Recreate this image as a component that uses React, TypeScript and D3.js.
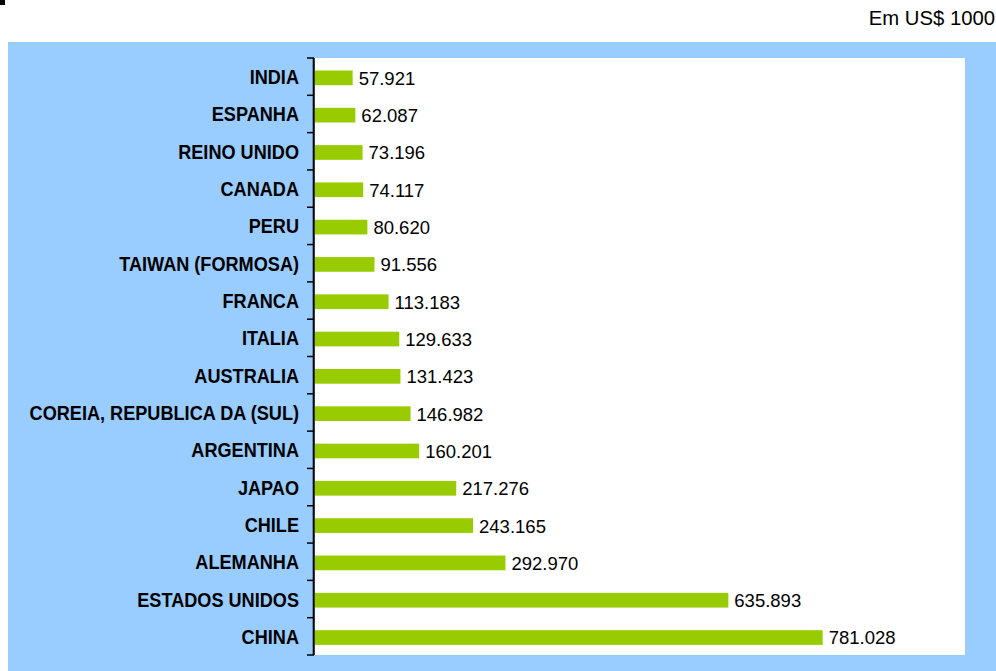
import React from "react";
import * as d3 from "d3";

const countries = [
  "INDIA",
  "ESPANHA",
  "REINO UNIDO",
  "CANADA",
  "PERU",
  "TAIWAN (FORMOSA)",
  "FRANCA",
  "ITALIA",
  "AUSTRALIA",
  "COREIA, REPUBLICA DA (SUL)",
  "ARGENTINA",
  "JAPAO",
  "CHILE",
  "ALEMANHA",
  "ESTADOS UNIDOS",
  "CHINA",
];
const values = [
  57921, 62087, 73196, 74117, 80620, 91556, 113183, 129633, 131423, 146982,
  160201, 217276, 243165, 292970, 635893, 781028,
];
const unitLabel = "Em US$ 1000";
const xDomain = [0, 1000000];

const W = 996;
const H = 671;

const ptBR = d3.formatLocale({
  decimal: ",",
  thousands: ".",
  grouping: [3],
  currency: ["US$", ""],
});
const fmt = ptBR.format(",d");

export default function App() {
  const plotLeft = 315;
  const plotRight = 965;
  const plotTop = 58;
  const plotBottom = 655;

  const x = d3.scaleLinear().domain(xDomain).range([plotLeft, plotRight]);
  const y = d3
    .scaleBand<string>()
    .domain(countries)
    .range([plotTop, plotBottom])
    .paddingInner(0)
    .paddingOuter(0);
  const bw = y.bandwidth();
  const barH = 14.7;
  const boundaries = d3.range(countries.length + 1).map((i) => plotTop + i * bw);

  const font = "Arial, 'Liberation Sans', sans-serif";

  return (
    <div style={{ position: "absolute", left: 0, top: 0 }}>
      <svg width={W} height={H} style={{ display: "block" }}>
        <rect x={0} y={0} width={W} height={H} fill="#ffffff" />
        <rect x={0} y={0} width={5} height={5} fill="#000000" />
        <text
          x={995}
          y={25}
          textAnchor="end"
          fontFamily={font}
          fontSize={20.3}
          fill="#000"
        >
          {unitLabel}
        </text>
        <rect x={8} y={42} width={W - 8} height={H - 42} fill="#99ccff" />
        <rect
          x={plotLeft}
          y={plotTop}
          width={plotRight - plotLeft}
          height={plotBottom - plotTop}
          fill="#ffffff"
        />
        {countries.map((c, i) => {
          const yc = (y(c) as number) + bw / 2;
          const barTop = (y(c) as number) + 12.5;
          return (
            <g key={c}>
              <rect
                x={x(0)}
                y={barTop}
                width={x(values[i]) - x(0)}
                height={barH}
                fill="#99cc00"
              />
              <text
                transform={`translate(299,${yc + 7.5}) scale(0.93,1)`}
                textAnchor="end"
                fontFamily={font}
                fontWeight="bold"
                fontSize={19.5}
                fill="#000"
              >
                {c}
              </text>
              <text
                x={x(values[i]) + 6}
                y={barTop + barH / 2 + 6.9}
                fontFamily={font}
                fontSize={18.5}
                fill="#000"
              >
                {fmt(values[i])}
              </text>
            </g>
          );
        })}
        <line
          x1={313.7}
          x2={313.7}
          y1={plotTop}
          y2={plotBottom}
          stroke="#000"
          strokeWidth={2}
        />
        {boundaries.map((b, i) => (
          <line
            key={i}
            x1={307}
            x2={314}
            y1={b}
            y2={b}
            stroke="#000"
            strokeWidth={1.5}
          />
        ))}
      </svg>
    </div>
  );
}
